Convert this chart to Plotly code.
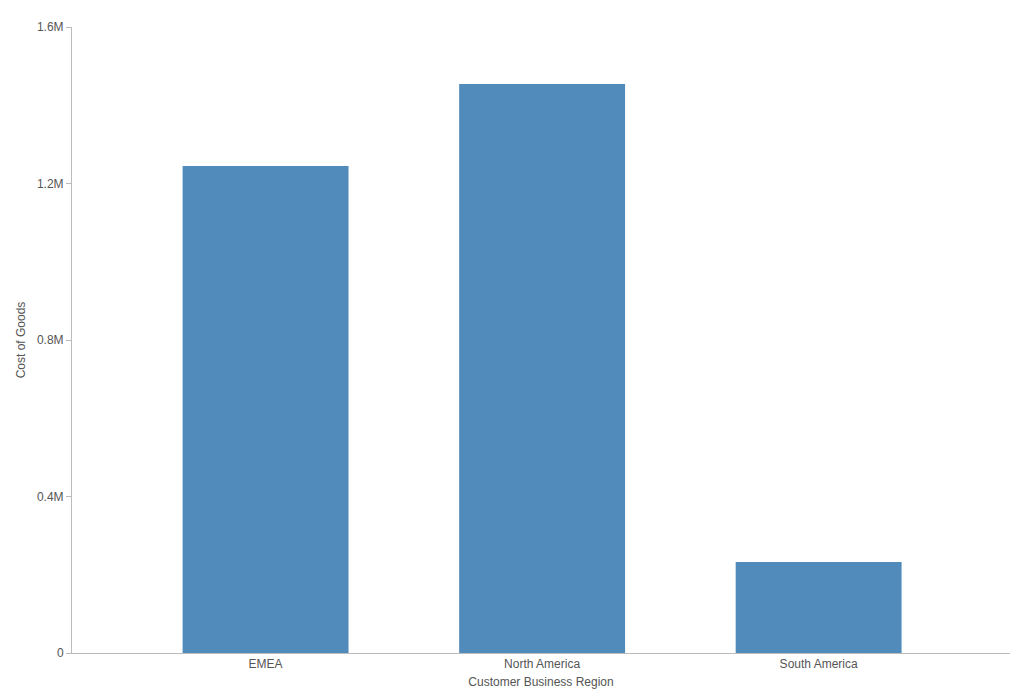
import plotly.graph_objects as go

regions = ["EMEA", "North America", "South America"]
cost_of_goods = [1244700, 1454300, 232600]
y_tick_vals = [0, 400000, 800000, 1200000, 1600000]
y_tick_text = ["0", "0.4M", "0.8M", "1.2M", "1.6M"]

fig = go.Figure(
    go.Bar(
        x=regions,
        y=cost_of_goods,
        marker=dict(color="#518BBB", line=dict(width=0)),
        width=0.6,
        hoverinfo="x+y",
    )
)

axis_color = "#BBBBBB"
text_color = "#555555"

fig.update_layout(
    width=1002,
    height=681,
    margin=dict(l=64, r=0, t=19, b=36),
    paper_bgcolor="white",
    plot_bgcolor="white",
    font=dict(family="Liberation Sans, Arial, sans-serif", size=12, color=text_color),
    showlegend=False,
    xaxis=dict(
        range=[-0.7, 2.692],
        showline=True,
        linecolor=axis_color,
        linewidth=1,
        showgrid=False,
        ticks="",
        zeroline=False,
        tickfont=dict(size=12, color=text_color),
        title=dict(text="Customer Business Region", font=dict(size=12, color=text_color), standoff=10),
    ),
    yaxis=dict(
        range=[0, 1600000],
        tickvals=y_tick_vals,
        ticktext=y_tick_text,
        showline=True,
        linecolor=axis_color,
        linewidth=1,
        showgrid=False,
        zeroline=False,
        ticks="outside",
        ticklen=5,
        tickcolor=axis_color,
        tickfont=dict(size=12, color=text_color),
        title=dict(text="Cost of Goods", font=dict(size=12, color=text_color), standoff=8),
    ),
)

fig.write_html("out.html")
